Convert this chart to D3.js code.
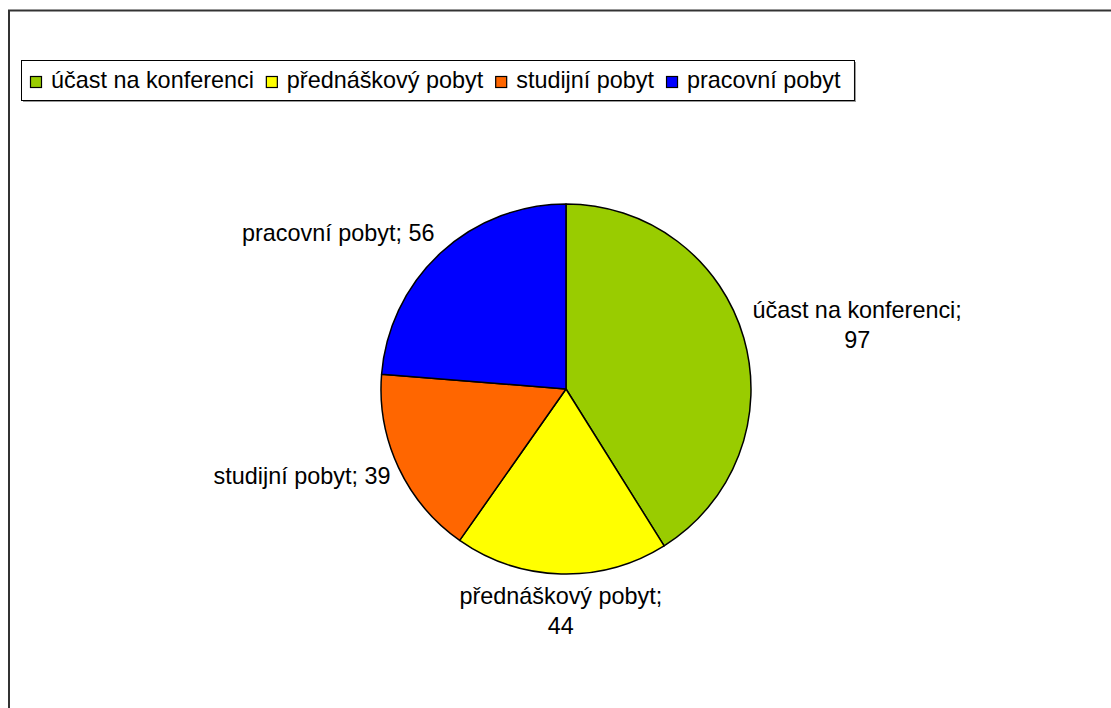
<!DOCTYPE html>
<meta charset="utf-8">
<script src="https://d3js.org/d3.v7.min.js"></script>
<style>
  body { margin: 0; background: #fff; }
  text { font-family: "Liberation Sans", Arial, sans-serif; font-size: 23.4px; fill: #000; }
</style>
<div id="chart"></div>
<script>

// data
var categories = ["účast na konferenci", "přednáškový pobyt", "studijní pobyt", "pracovní pobyt"]
var values = [97, 44, 39, 56]
var colors = ["#99cc00", "#ffff00", "#ff6600", "#0000ff"]

var width = 1111,
    height = 708

var svg = d3.select("#chart")
  .append("svg")
    .attr("width", width)
    .attr("height", height)

// outer chart frame (right and bottom run off the page)
svg.append("rect")
  .attr("x", 9).attr("y", 10.5)
  .attr("width", 1200).attr("height", 800)
  .attr("fill", "none")
  .attr("stroke", "#333")
  .attr("stroke-width", 2)

// ---- legend ----
var legend = svg.append("g")
var lx = 30
categories.forEach(function(c, i) {
  legend.append("rect")
    .attr("x", lx + 0.5).attr("y", 76.5)
    .attr("width", 11).attr("height", 11)
    .attr("fill", colors[i])
    .attr("stroke", "#000")
    .attr("stroke-width", 1.2)
  var t = legend.append("text")
    .attr("x", lx + 21).attr("y", 88)
    .text(c)
  lx = lx + 21 + t.node().getComputedTextLength() + 12
})
var boxRight = lx + 2
// shadow, then box
legend.insert("rect", ":first-child")
  .attr("x", 21.5).attr("y", 60.5)
  .attr("width", boxRight - 21.5).attr("height", 40)
  .attr("fill", "#fff")
  .attr("stroke", "#000")
  .attr("stroke-width", 1)
legend.insert("rect", ":first-child")
  .attr("x", 23).attr("y", 62)
  .attr("width", boxRight - 21.5).attr("height", 40)
  .attr("fill", "#999")

// ---- pie ----
var cx = 566, cy = 389, radius = 185

var pie = d3.pie().sort(null).value(function(d) { return d; })
var arcs = pie(values)

var g = svg.append("g").attr("transform", "translate(" + cx + "," + cy + ")")

g.selectAll("path")
  .data(arcs)
  .enter()
  .append("path")
    .attr("d", d3.arc().innerRadius(0).outerRadius(radius))
    .attr("fill", function(d, i) { return colors[i]; })
    .attr("stroke", "#000")
    .attr("stroke-width", 1.5)
    .attr("stroke-linejoin", "round")

// ---- data labels: "name; value", placed outside the slice ----
var lineH = 30
arcs.forEach(function(d, i) {
  var mid = (d.startAngle + d.endAngle) / 2
  var dx = Math.sin(mid), dy = -Math.cos(mid)
  var R = radius + 9
  var px = dx * R, py = dy * R
  // labels on the right / bottom wrap after the ";"
  var lines = (dx > 0.25 || dy > 0.8)
    ? [categories[i] + ";", String(values[i])]
    : [categories[i] + "; " + values[i]]
  var t = g.append("text")
  lines.forEach(function(s) { t.append("tspan").text(s) })
  var ws = []
  t.selectAll("tspan").each(function() { ws.push(this.getComputedTextLength()) })
  var w = d3.max(ws)
  var h = lines.length * lineH
  var left
  if (dx > 0.25) left = px
  else if (dx < -0.25) left = px - w
  else left = px - w / 2
  var top = py - h * (1 - dy) / 2
  t.selectAll("tspan")
    .attr("text-anchor", "middle")
    .attr("x", left + w / 2)
    .attr("y", function(s, k) { return top + 21 + k * lineH })
})

</script>
